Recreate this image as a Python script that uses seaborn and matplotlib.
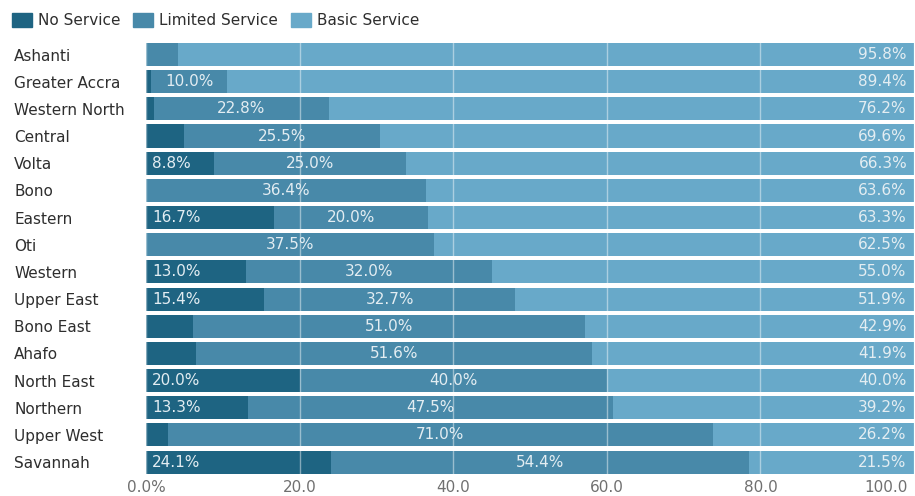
import matplotlib
matplotlib.use("Agg")
import matplotlib.pyplot as plt
from matplotlib.patches import Patch
from matplotlib.transforms import ScaledTranslation
import pandas as pd
import seaborn as sns

# Share of households by service level, per region (percent)
regions = ["Ashanti", "Greater Accra", "Western North", "Central", "Volta", "Bono",
           "Eastern", "Oti", "Western", "Upper East", "Bono East", "Ahafo",
           "North East", "Northern", "Upper West", "Savannah"]
no_service = [0.0, 0.6, 1.0, 4.9, 8.8, 0.0, 16.7, 0.0, 13.0, 15.4, 6.1, 6.5,
              20.0, 13.3, 2.8, 24.1]
limited_service = [4.2, 10.0, 22.8, 25.5, 25.0, 36.4, 20.0, 37.5, 32.0, 32.7,
                   51.0, 51.6, 40.0, 47.5, 71.0, 54.4]
basic_service = [95.8, 89.4, 76.2, 69.6, 66.3, 63.6, 63.3, 62.5, 55.0, 51.9,
                 42.9, 41.9, 40.0, 39.2, 26.2, 21.5]
x_ticks = [0, 20, 40, 60, 80, 100]
x_tick_labels = ["0.0%", "20.0", "40.0", "60.0", "80.0", "100.0"]

c_no = "#1e6482"
c_lim = "#4889a9"
c_basic = "#68a9c9"

df = pd.DataFrame({"region": regions, "none": no_service,
                   "limited": limited_service, "basic": basic_service})
df["upto_limited"] = df["none"] + df["limited"]
df["total"] = df["upto_limited"] + df["basic"]

sns.set_theme(style="white")
plt.rcParams["font.family"] = ["DejaVu Sans"]

fig = plt.figure(figsize=(9.15, 4.96), dpi=100)
ax = fig.add_axes([0.1596, 0.041, 0.8394, 0.8765])

# Stacked bars: draw cumulative totals from the widest layer inward
bar_h = 0.85
sns.barplot(data=df, x="total", y="region", color=c_basic, width=bar_h,
            saturation=1, ax=ax, linewidth=0)
sns.barplot(data=df, x="upto_limited", y="region", color=c_lim, width=bar_h,
            saturation=1, ax=ax, linewidth=0)
sns.barplot(data=df, x="none", y="region", color=c_no, width=bar_h,
            saturation=1, ax=ax, linewidth=0)

label_color = "#e3edf2"
fs = 11
for i, row in df.iterrows():
    if row["none"] >= 8:
        ax.text(0.8, i, f"{row['none']:.1f}%", ha="left", va="center",
                color=label_color, fontsize=fs)
    if row["limited"] >= 8:
        ax.text(row["none"] + row["limited"] / 2, i, f"{row['limited']:.1f}%",
                ha="center", va="center", color=label_color, fontsize=fs)
    if row["basic"] >= 8:
        ax.text(row["total"] - 1.0, i, f"{row['basic']:.1f}%", ha="right",
                va="center", color=label_color, fontsize=fs)

ax.set_xlim(0, 100)
ax.set_ylim(len(regions) - 0.5, -0.5)
ax.set_xticks(x_ticks)
ax.set_xticklabels(x_tick_labels, color="#707070", fontsize=11)
ax.tick_params(axis="y", labelsize=11, labelcolor="#2e2e2e", length=0, pad=95)
ax.tick_params(axis="x", length=0, pad=3)
for lbl in ax.get_yticklabels():
    lbl.set_horizontalalignment("left")
last = ax.get_xticklabels()[-1]
last.set_horizontalalignment("right")
last.set_transform(last.get_transform() + ScaledTranslation(-6 / 100, 0, fig.dpi_scale_trans))
ax.set_xlabel("")
ax.set_ylabel("")
for s in ax.spines.values():
    s.set_visible(False)

# Light vertical grid drawn over the bars
ax.set_axisbelow(False)
ax.xaxis.grid(True, color="white", alpha=0.45, linewidth=1.0)
ax.yaxis.grid(False)

handles = [Patch(color=c_no, label="No Service"),
           Patch(color=c_lim, label="Limited Service"),
           Patch(color=c_basic, label="Basic Service")]
fig.legend(handles=handles, loc="upper left", bbox_to_anchor=(0.013, 0.974),
           ncol=3, frameon=False, fontsize=11, handlelength=1.3,
           handleheight=1.0, handletextpad=0.4, columnspacing=0.85,
           borderpad=0, borderaxespad=0, labelcolor="#2e2e2e")

fig.savefig("out.png", dpi=100)
